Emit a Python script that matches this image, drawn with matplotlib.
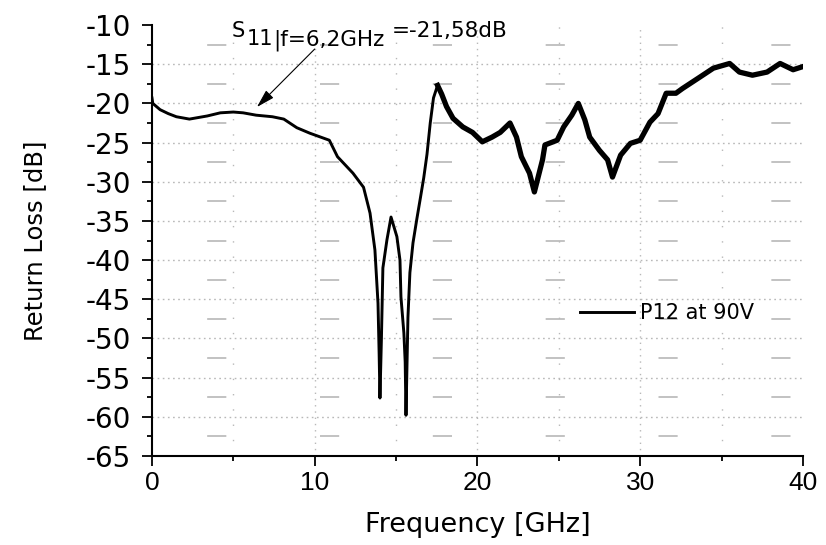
import matplotlib
matplotlib.use("Agg")
import matplotlib.pyplot as plt
from matplotlib.ticker import MultipleLocator

# S11 of P12 at 90V
freq = [0.0, 0.05, 0.5, 1.0, 1.5, 2.3, 3.4, 4.2, 5.0, 5.6, 6.4, 7.4, 8.1, 8.9,
        9.7, 10.5, 10.9, 11.4, 12.35, 13.0, 13.4, 13.7, 13.89, 13.96, 14.01,
        14.1, 14.19, 14.44, 14.69, 15.05, 15.24, 15.3, 15.48, 15.56, 15.61,
        15.73, 15.85, 16.04, 16.28, 16.5, 16.7, 16.9, 17.1, 17.3, 17.55]
s11 = [-19.3, -20.0, -20.8, -21.3, -21.7, -22.0, -21.6, -21.2, -21.1, -21.2,
       -21.5, -21.7, -22.0, -23.1, -23.8, -24.4, -24.7, -26.8, -28.9, -30.7,
       -34.0, -38.7, -45.5, -52.0, -57.6, -50.0, -41.0, -37.4, -34.5, -37.0,
       -40.0, -44.7, -49.3, -53.0, -59.8, -47.3, -41.6, -37.8, -34.7, -32.0,
       -29.5, -26.5, -22.5, -19.3, -17.7]
# noisy upper band
freq_hi = [17.55, 17.8, 18.1, 18.5, 19.1, 19.7, 20.3, 20.9, 21.4, 22.0, 22.4,
           22.7, 23.2, 23.5, 24.0, 24.15, 24.9, 25.3, 25.8, 26.2, 26.6, 26.9,
           27.5, 28.0, 28.3, 28.8, 29.4, 30.0, 30.6, 31.1, 31.6, 32.2, 32.6,
           33.7, 34.5, 35.5, 36.1, 36.9, 37.8, 38.6, 39.4, 40.0]
s11_hi = [-17.7, -18.8, -20.4, -21.9, -23.0, -23.7, -24.9, -24.3, -23.7,
          -22.5, -24.3, -26.8, -28.9, -31.3, -27.2, -25.3, -24.7, -23.0, -21.5,
          -20.0, -22.1, -24.3, -26.0, -27.2, -29.4, -26.6, -25.1, -24.7, -22.4,
          -21.3, -18.7, -18.7, -18.1, -16.6, -15.5, -14.9, -16.0, -16.4, -16.0,
          -14.9, -15.7, -15.3]

series_name = "P12 at 90V"
marker_f = 6.45
marker_db = -20.46

plt.rcParams['font.family'] = ['DejaVu Sans']
plt.rcParams['axes.unicode_minus'] = False

fig = plt.figure(figsize=(8.26, 5.45), dpi=100)
ax = fig.add_axes([0.184, 0.1633, 0.788, 0.7907])

line, = ax.plot(freq, s11, color='black', lw=2.1, label=series_name)
ax.plot(freq_hi, s11_hi, color='black', lw=3.8, solid_joinstyle='round')

ax.set_xlim(0, 40)
ax.set_ylim(-65, -10)
ax.xaxis.set_major_locator(MultipleLocator(10))
ax.xaxis.set_minor_locator(MultipleLocator(5))
ax.yaxis.set_major_locator(MultipleLocator(5))
ax.yaxis.set_minor_locator(MultipleLocator(2.5))

# grid lines like the Origin export
gc = '#b8b8b8'
for v in range(10, 40, 10):
    ax.axvline(v, color=gc, lw=1, ls=(0, (1, 3.5)), zorder=0)
for v in range(5, 40, 10):
    ax.axvline(v, color=gc, lw=1, ls=(0, (1, 10)), zorder=0)
for v in range(-60, -10, 5):
    ax.axhline(v, color=gc, lw=1, ls=(0, (1.2, 2.5)), zorder=0)
for k in range(22):
    v = -62.5 + 5 * k
    if v > -10:
        break
    ax.axhline(v, color=gc, lw=1.2, ls=(34.6, (11.5, 56.2)), zorder=0)

for s in ['top', 'right']:
    ax.spines[s].set_visible(False)
for s in ['left', 'bottom']:
    ax.spines[s].set_linewidth(1.5)

ax.tick_params(which='major', direction='out', length=7, width=1.3)
ax.tick_params(which='minor', direction='out', length=3.6, width=1.3)
ax.tick_params(axis='y', labelsize=20, pad=8)
ax.tick_params(axis='x', labelsize=19, pad=4)
for lab in ax.get_xticklabels():
    lab.set_family(['Liberation Sans Narrow', 'Liberation Sans'])

ax.set_xlabel("Frequency [GHz]", fontsize=19.5, labelpad=12)
ax.set_ylabel("Return Loss [dB]", fontsize=17.5, labelpad=28)

# annotation of the 6.2 GHz point
ax.annotate("", xy=(marker_f, marker_db), xytext=(10.0, -13.06),
            arrowprops=dict(arrowstyle='-|>,head_length=0.7,head_width=0.2',
                            color='black', lw=0.8, mutation_scale=16,
                            shrinkA=0, shrinkB=0))
ax.text(4.92, -11.53, "S", fontsize=15, va='baseline', clip_on=False)
ax.text(5.85, -12.55, "11", fontsize=15, va='baseline', clip_on=False)
ax.text(7.45, -12.55, "|f=6,2GHz", fontsize=15.5, va='baseline', clip_on=False)
ax.text(14.75, -11.53, "=-21,58dB", fontsize=15.5, va='baseline', clip_on=False)

ax.legend(handles=[line], loc='center left', bbox_to_anchor=(0.657, 0.332),
          frameon=False, fontsize=15, handlelength=2.6, handletextpad=0.3,
          borderpad=0, borderaxespad=0)

fig.savefig("out.png", dpi=100)
